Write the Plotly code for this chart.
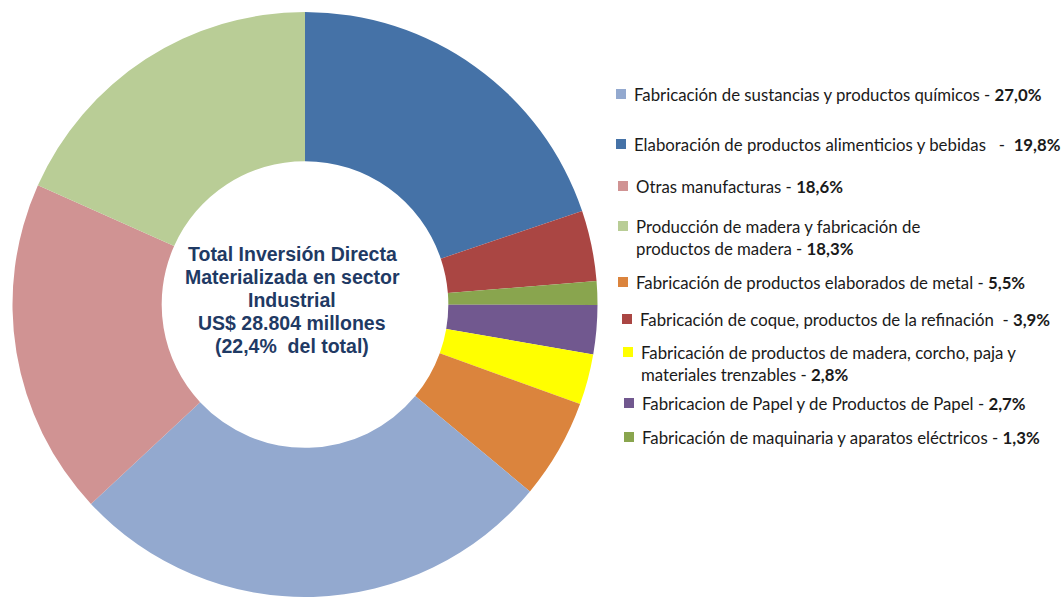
import plotly.graph_objects as go

# legend order
sectors = [
    "Fabricación de sustancias y productos químicos",
    "Elaboración de productos alimenticios y bebidas ",
    "Otras manufacturas",
    "Producción de madera y fabricación de<br>productos de madera",
    "Fabricación de productos elaborados de metal",
    "Fabricación de coque, productos de la refinación ",
    "Fabricación de productos de madera, corcho, paja y<br>materiales trenzables",
    "Fabricacion de Papel y de Productos de Papel",
    "Fabricación de maquinaria y aparatos eléctricos",
]
shares = [27.0, 19.8, 18.6, 18.3, 5.5, 3.9, 2.8, 2.7, 1.3]
colors = ["#93A9CF", "#4572A7", "#D09393", "#B9CD96", "#DB843D",
          "#AA4643", "#FFFF00", "#71588F", "#89A54E"]

# order of the slices clockwise from 12 o'clock (indices into sectors)
pie_order = [1, 5, 8, 7, 6, 4, 0, 2, 3]

center_lines = ["Total Inversión Directa", "Materializada en sector", "Industrial",
                "US$ 28.804 millones", "(22,4%  del total)"]

W, H = 1061, 597


def px(x):
    return x / W


def py(y):
    return (H - y) / H


fig = go.Figure()
fig.add_trace(go.Pie(
    labels=[sectors[i].replace("<br>", " ") for i in pie_order],
    values=[shares[i] for i in pie_order],
    marker=dict(colors=[colors[i] for i in pie_order], line=dict(width=0)),
    sort=False,
    direction="clockwise",
    hole=0.49,
    textinfo="none",
    showlegend=False,
    domain=dict(x=[px(12), px(598)], y=[py(597), py(12)]),
))

for k, line in enumerate(center_lines):
    fig.add_annotation(
        x=px(292), y=py(254 + 23 * k), xref="paper", yref="paper",
        text="<b>" + line + "</b>", showarrow=False,
        xanchor="center", yanchor="middle",
        font=dict(family="Liberation Sans, Arial", size=19.5, color="#1F3A64"),
    )

# legend drawn by hand (slice order differs from legend order)
row_y = [94, 144, 186, 237, 282, 319, 363, 403, 437]
box_x = [621, 621, 623, 623, 623, 627, 628, 629, 629]
for i, (name, val) in enumerate(zip(sectors, shares)):
    yc = row_y[i]
    first_line_y = yc - 11 if "<br>" in name else yc
    fig.add_shape(
        type="rect", xref="paper", yref="paper",
        x0=px(box_x[i] - 5), x1=px(box_x[i] + 5),
        y0=py(first_line_y + 5), y1=py(first_line_y - 5),
        fillcolor=colors[i], line=dict(width=0),
    )
    sep = "  -  " if i == 1 else " - "
    fig.add_annotation(
        x=px(box_x[i] + 11), y=py(yc), xref="paper", yref="paper",
        xanchor="left", yanchor="middle", align="left", showarrow=False,
        text=name + sep + "<b>" + f"{val:.1f}".replace(".", ",") + "%</b>",
        font=dict(family="Lato", size=16.8, color="#1A1A1A"),
    )

fig.update_layout(
    width=W, height=H,
    margin=dict(l=0, r=0, t=0, b=0),
    paper_bgcolor="white",
    plot_bgcolor="white",
)

fig.write_html(
    "out.html",
    config={"displayModeBar": False},
    post_script="document.body.style.margin='0';document.body.style.overflow='hidden';",
)
